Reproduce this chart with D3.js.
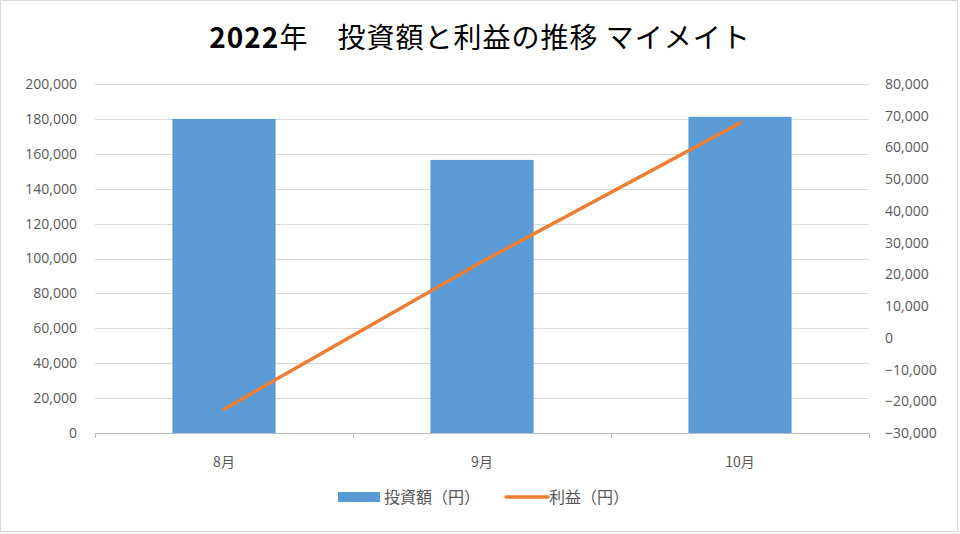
<!DOCTYPE html>
<meta charset="utf-8">
<head>
<style>
  body { margin: 0; background: #fff; }
  svg { display: block; font-family: "Noto Sans CJK JP", "Open Sans", sans-serif; }
  .tick text { fill: #595959; font-size: 14px; font-family: "Open Sans", "Noto Sans CJK JP", sans-serif; }
</style>
</head>
<body>
<div class="chart"></div>
<script src="https://d3js.org/d3.v7.min.js" charset="utf-8"></script>
<script>
const months = ['8月', '9月', '10月'];
const investment = [180000, 156500, 181200];
const profit = [-22500, 24000, 67700];
const leftTicks = [0, 20000, 40000, 60000, 80000, 100000, 120000, 140000, 160000, 180000, 200000];
const rightTicks = [-30000, -20000, -10000, 0, 10000, 20000, 30000, 40000, 50000, 60000, 70000, 80000];

const W = 960, H = 534;
const margin = { top: 84, right: 91, bottom: 101, left: 95 };
const width = W - margin.left - margin.right;
const height = H - margin.top - margin.bottom;

const svg = d3.select('.chart').append('svg')
  .attr('width', W)
  .attr('height', H);

// outer frame
svg.append('rect')
  .attr('x', 0.5).attr('y', 0.5)
  .attr('width', W - 3).attr('height', H - 3)
  .attr('fill', '#fff')
  .attr('stroke', '#d9d9d9');

const g = svg.append('g')
  .attr('transform', `translate(${margin.left}, ${margin.top})`);

const xScale = d3.scaleBand().domain(months).range([0, width]);
const yLeft = d3.scaleLinear().domain([0, 200000]).range([height, 0]);
const yRight = d3.scaleLinear().domain([-30000, 80000]).range([height, 0]);

// gridlines
g.selectAll('.grid').data(leftTicks.filter(d => d > 0))
  .enter().append('line')
  .attr('x1', 0).attr('x2', width)
  .attr('y1', d => Math.round(yLeft(d)) + 0.5)
  .attr('y2', d => Math.round(yLeft(d)) + 0.5)
  .attr('stroke', '#d9d9d9');

const fmt = d3.format(',');

g.append('g')
  .call(d3.axisLeft(yLeft).tickValues(leftTicks).tickFormat(fmt).tickSize(0).tickPadding(18))
  .call(a => a.select('.domain').remove());

g.append('g')
  .attr('transform', `translate(${width}, 0)`)
  .call(d3.axisRight(yRight).tickValues(rightTicks).tickFormat(fmt).tickSize(0).tickPadding(16))
  .call(a => a.select('.domain').remove());

// bars
const barW = xScale.bandwidth() * 0.4;
g.selectAll('.bar').data(investment)
  .enter().append('rect')
  .attr('class', 'bar')
  .attr('x', (d, i) => xScale(months[i]) + (xScale.bandwidth() - barW) / 2)
  .attr('width', barW)
  .attr('y', d => yLeft(d))
  .attr('height', d => height - yLeft(d))
  .attr('fill', '#5b9bd5');

// category axis
const xAxis = g.append('g')
  .attr('transform', `translate(0, ${height})`);
xAxis.append('line')
  .attr('x1', 0).attr('x2', width)
  .attr('y1', 0.5).attr('y2', 0.5)
  .attr('stroke', '#bfbfbf');
xAxis.selectAll('.xtick').data(d3.range(months.length + 1))
  .enter().append('line')
  .attr('x1', i => Math.round(i * xScale.step()) + 0.5)
  .attr('x2', i => Math.round(i * xScale.step()) + 0.5)
  .attr('y1', 0).attr('y2', 5)
  .attr('stroke', '#bfbfbf');
xAxis.selectAll('.xlabel').data(months)
  .enter().append('text')
  .attr('x', d => xScale(d) + xScale.bandwidth() / 2)
  .attr('y', 34)
  .attr('text-anchor', 'middle')
  .attr('fill', '#595959')
  .style('font-size', '14px')
  .text(d => d);

// profit line
const line = d3.line()
  .x((d, i) => xScale(months[i]) + xScale.bandwidth() / 2)
  .y(d => yRight(d));
g.append('path')
  .datum(profit)
  .attr('d', line)
  .attr('fill', 'none')
  .attr('stroke', '#ed7d31')
  .attr('stroke-width', 3.5)
  .attr('stroke-linecap', 'round');

// title
svg.append('text')
  .attr('x', W / 2)
  .attr('y', 48)
  .attr('text-anchor', 'middle')
  .attr('fill', '#000')
  .style('font-size', '28px')
  .style('letter-spacing', '1px')
  .html('<tspan font-weight="bold">2022</tspan>年　投資額と利益の推移 マイメイト');

// legend
const legend = svg.append('g').attr('transform', 'translate(338, 497)');
legend.append('rect')
  .attr('x', 0).attr('y', -5)
  .attr('width', 42).attr('height', 10)
  .attr('fill', '#5b9bd5');
legend.append('text')
  .attr('x', 46).attr('y', 6)
  .attr('fill', '#595959')
  .style('font-size', '16px')
  .text('投資額（円）');
legend.append('line')
  .attr('x1', 168).attr('x2', 210)
  .attr('y1', 0).attr('y2', 0)
  .attr('stroke', '#ed7d31')
  .attr('stroke-width', 3.5)
  .attr('stroke-linecap', 'round');
legend.append('text')
  .attr('x', 211).attr('y', 6)
  .attr('fill', '#595959')
  .style('font-size', '16px')
  .text('利益（円）');
</script>
</body>
